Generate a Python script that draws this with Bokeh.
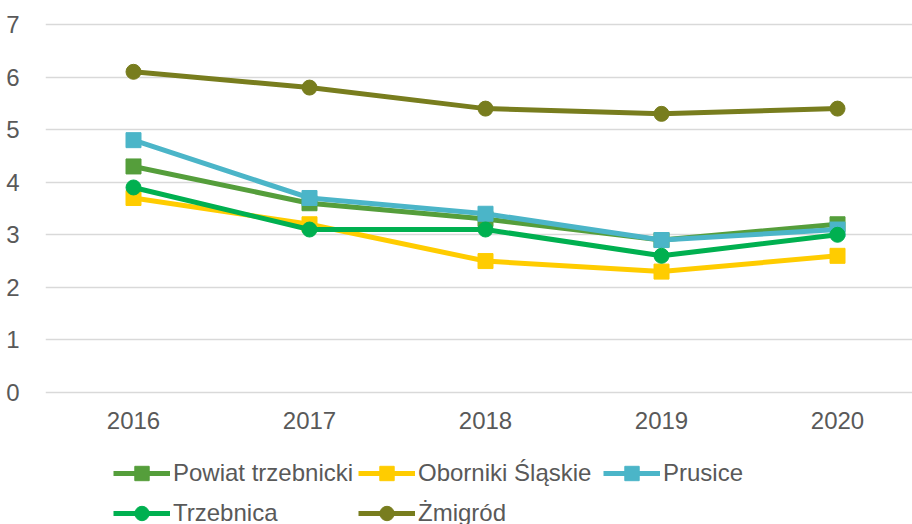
from bokeh.plotting import figure
from bokeh.models import Range1d, FixedTicker, Legend, LegendItem
from bokeh.core.properties import value
from bokeh.embed import file_html
from bokeh.resources import INLINE

years = ["2016", "2017", "2018", "2019", "2020"]
powiat = [4.3, 3.6, 3.3, 2.9, 3.2]
oborniki = [3.7, 3.2, 2.5, 2.3, 2.6]
prusice = [4.8, 3.7, 3.4, 2.9, 3.1]
trzebnica = [3.9, 3.1, 3.1, 2.6, 3.0]
zmigrod = [6.1, 5.8, 5.4, 5.3, 5.4]
y_ticks = [0, 1, 2, 3, 4, 5, 6, 7]

series = [
    ("Powiat trzebnicki", powiat, "#559E3B", "square"),
    ("Oborniki Śląskie", oborniki, "#FFCC00", "square"),
    ("Prusice", prusice, "#4BB5C8", "square"),
    ("Trzebnica", trzebnica, "#00B050", "circle"),
    ("Żmigród", zmigrod, "#787D1E", "circle"),
]

xs = list(range(len(years)))
FONT = "Liberation Sans"
TXT = "#595959"
FS = "24px"

# frame covers the whole canvas height; 0 sits 132px above the bottom, 7 sits 24px below the top
px_per_unit = 368 / 7
y0 = -132 / px_per_unit
y1 = 7 + 24 / px_per_unit

p = figure(width=912, height=524, output_backend="svg", toolbar_location=None,
           x_range=Range1d(-0.5, 4.426), y_range=Range1d(y0, y1),
           min_border_left=45, min_border_right=0, min_border_top=0,
           min_border_bottom=0)
p.outline_line_color = None
p.background_fill_color = "white"
p.border_fill_color = "white"

p.xaxis.visible = False
p.xgrid.grid_line_color = None
p.ygrid.grid_line_color = "#D9D9D9"
p.ygrid.grid_line_width = 1.3
p.yaxis.ticker = FixedTicker(ticks=y_ticks)
p.yaxis.axis_line_color = None
p.yaxis.major_tick_line_color = None
p.yaxis.minor_tick_line_color = None
p.yaxis.major_label_text_font = FONT
p.yaxis.major_label_text_font_size = FS
p.yaxis.major_label_text_color = TXT
p.yaxis.major_label_standoff = 20

# category labels under the zero line
p.text(x=xs, y=[0] * len(xs), text=years, y_offset=28,
       text_align="center", text_baseline="middle",
       text_font=value(FONT), text_font_size=value(FS), text_color=TXT)

items = []
for name, vals, color, marker in series:
    r_line = p.line(xs, vals, line_color=color, line_width=5)
    r_pt = p.scatter(xs, vals, marker=marker, size=15, fill_color=color,
                     line_color=color, line_width=1)
    items.append(LegendItem(label=name, renderers=[r_line, r_pt]))

legend = Legend(items=items, location=(68, -7), orientation="horizontal",
                ncols=3, glyph_width=57, glyph_height=36, label_height=36,
                label_width=181, spacing=4, label_standoff=3, padding=0,
                margin=0, border_line_color=None, background_fill_alpha=0,
                label_text_font=FONT, label_text_font_size=FS,
                label_text_color=TXT)
p.add_layout(legend)

open("out.html", "w").write(file_html(p, INLINE))
